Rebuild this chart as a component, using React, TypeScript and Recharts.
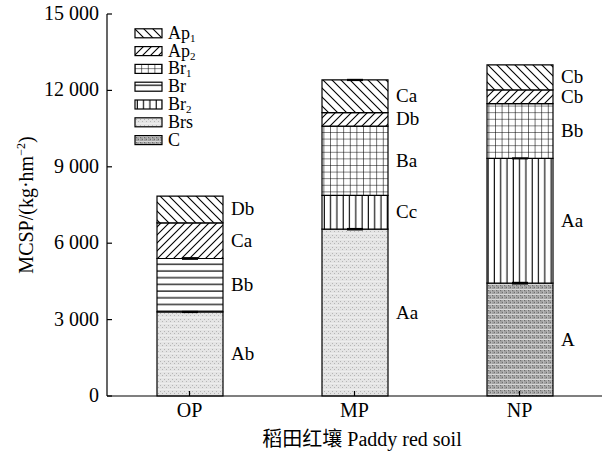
import React from 'react';
import { BarChart, Bar, XAxis, YAxis, LabelList, ErrorBar, Legend } from 'recharts';

const categories = ['OP', 'MP', 'NP'];
const seriesKeys = ['C', 'Brs', 'Br2', 'Br', 'Br1', 'Ap2', 'Ap1'];

const valC = [0, 0, 4430];
const valBrs = [3300, 6550, 0];
const valBr2 = [0, 1330, 4900];
const valBr = [2100, 0, 0];
const valBr1 = [0, 2720, 2150];
const valAp2 = [1400, 530, 540];
const valAp1 = [1050, 1280, 980];

const sigC = ['', '', 'A'];
const sigBrs = ['Ab', 'Aa', ''];
const sigBr2 = ['', 'Cc', 'Aa'];
const sigBr = ['Bb', '', ''];
const sigBr1 = ['', 'Ba', 'Bb'];
const sigAp2 = ['Ca', 'Db', 'Cb'];
const sigAp1 = ['Db', 'Ca', 'Cb'];

const errC = [0, 0, 25];
const errBrs = [15, 20, 0];
const errBr2 = [0, 0, 10];
const errBr = [25, 0, 0];
const errBr1 = [0, 0, 0];
const errAp2 = [0, 0, 0];
const errAp1 = [0, 15, 0];

const yTicks = [0, 3000, 6000, 9000, 12000, 15000];
const yTickLabels = ['0', '3 000', '6 000', '9 000', '12 000', '15 000'];

const legendKeys = ['Ap1', 'Ap2', 'Br1', 'Br', 'Br2', 'Brs', 'C'];
const legendMain = ['Ap', 'Ap', 'Br', 'Br', 'Br', 'Brs', 'C'];
const legendSub = ['1', '2', '1', '', '2', '', ''];

const vals: Record<string, number[]> = { C: valC, Brs: valBrs, Br2: valBr2, Br: valBr, Br1: valBr1, Ap2: valAp2, Ap1: valAp1 };
const sigs: Record<string, string[]> = { C: sigC, Brs: sigBrs, Br2: sigBr2, Br: sigBr, Br1: sigBr1, Ap2: sigAp2, Ap1: sigAp1 };
const errs: Record<string, number[]> = { C: errC, Brs: errBrs, Br2: errBr2, Br: errBr, Br1: errBr1, Ap2: errAp2, Ap1: errAp1 };

const data = categories.map((name, i) => {
  const row: any = { name };
  seriesKeys.forEach((k) => {
    row[k] = vals[k][i];
    row[k + '_sig'] = sigs[k][i];
    row[k + '_err'] = errs[k][i];
  });
  return row;
});

const FONT = "'Liberation Serif', 'Times New Roman', 'Noto Sans CJK SC', serif";
const AXIS_X = 107;
const AXIS_Y = 396;

const SegLabel = (props: any) => {
  const vb = props.viewBox || {};
  const x = props.x ?? vb.x;
  const y = props.y ?? vb.y;
  const width = props.width ?? vb.width;
  const height = props.height ?? vb.height;
  const value = props.value;
  if (!value || !height || Math.abs(height) < 1) return null;
  return (
    <text x={x + width + 8} y={y + height / 2 + 6} fontSize={19} fontFamily={FONT} fill="#000">
      {value}
    </text>
  );
};

const YTick = (props: any) => {
  const { y, payload } = props;
  const idx = yTicks.indexOf(payload.value);
  return (
    <g>
      <text x={99} y={y + 6} textAnchor="end" fontSize={20} fontFamily={FONT} fill="#000">
        {yTickLabels[idx]}
      </text>
      <line x1={AXIS_X} x2={AXIS_X + 5} y1={y} y2={y} stroke="#000" strokeWidth={1.2} />
    </g>
  );
};

const XTick = (props: any) => {
  const { x, payload } = props;
  return (
    <g>
      <line x1={x} x2={x} y1={AXIS_Y} y2={AXIS_Y - 5} stroke="#000" strokeWidth={1.2} />
      <text x={x} y={417} textAnchor="middle" fontSize={20} fontFamily={FONT} fill="#000">
        {payload.value}
      </text>
    </g>
  );
};

const LegendContent = () => (
  <svg width={120} height={135} style={{ display: 'block' }}>
    {legendKeys.map((k, i) => {
      const cy = 11.3 + 17.8 * i;
      return (
        <g key={k}>
          <rect x={7} y={cy - 4.5} width={27} height={9} fill={`url(#p-${k})`} stroke="#000" strokeWidth={1.2} />
          <text x={40} y={cy + 5.5} fontSize={18} fontFamily={FONT} fill="#000">
            {legendMain[i]}
            {legendSub[i] ? (
              <tspan fontSize={11} dy={3}>{legendSub[i]}</tspan>
            ) : null}
          </text>
        </g>
      );
    })}
  </svg>
);

export default function App() {
  return (
    <div style={{ position: 'absolute', left: 0, top: 0, background: '#fff' }}>
      <BarChart width={605} height={454} data={data} margin={{ top: 14, right: 3, bottom: 28, left: 0 }}>
        <defs>
          <pattern id="p-Ap1" patternUnits="userSpaceOnUse" width={9} height={9}>
            <rect width={9} height={9} fill="#fff" />
            <path d="M0,0 L9,9 M-3,6 L3,12 M6,-3 L12,3" stroke="#000" strokeWidth={1.1} />
          </pattern>
          <pattern id="p-Ap2" patternUnits="userSpaceOnUse" width={8} height={8}>
            <rect width={8} height={8} fill="#fff" />
            <path d="M0,8 L8,0 M-3,3 L3,-3 M5,11 L11,5" stroke="#000" strokeWidth={1.1} />
          </pattern>
          <pattern id="p-Br1" patternUnits="userSpaceOnUse" width={6.6} height={6.6}>
            <rect width={6.6} height={6.6} fill="#fff" />
            <path d="M0,0 L0,6.6 M0,0 L6.6,0" stroke="#000" strokeWidth={1.1} />
          </pattern>
          <pattern id="p-Br" patternUnits="userSpaceOnUse" width={6.7} height={6.7}>
            <rect width={6.7} height={6.7} fill="#fff" />
            <path d="M0,3 L6.7,3" stroke="#000" strokeWidth={1.2} />
          </pattern>
          <pattern id="p-Br2" patternUnits="userSpaceOnUse" width={6.3} height={6.3}>
            <rect width={6.3} height={6.3} fill="#fff" />
            <path d="M3,0 L3,6.3" stroke="#000" strokeWidth={1.1} />
          </pattern>
          <pattern id="p-Brs" patternUnits="userSpaceOnUse" width={4} height={6}>
            <rect width={4} height={6} fill="#e4e4e4" />
            <rect x={0} y={1} width={1} height={1} fill="#b5b5b5" />
            <rect x={2} y={3} width={1} height={1} fill="#b5b5b5" />
            <rect x={0} y={5} width={4} height={0.6} fill="#f4f4f4" />
          </pattern>
          <pattern id="p-C" patternUnits="userSpaceOnUse" width={4} height={5}>
            <rect width={4} height={5} fill="#a0a0a0" />
            <rect x={0} y={0} width={1} height={1} fill="#6e6e6e" />
            <rect x={2} y={2} width={1} height={1} fill="#6e6e6e" />
            <rect x={0} y={4} width={4} height={0.8} fill="#e8e8e8" />
            <rect x={3} y={0} width={0.6} height={5} fill="#c8c8c8" />
          </pattern>
        </defs>
        <XAxis
          dataKey="name"
          axisLine={{ stroke: '#000', strokeWidth: 1.2 }}
          tickLine={false}
          tick={<XTick />}
          interval={0}
        />
        <YAxis
          width={107}
          domain={[0, 15000]}
          ticks={yTicks}
          axisLine={{ stroke: '#000', strokeWidth: 1.2 }}
          tickLine={false}
          tick={<YTick />}
          interval={0}
        />
        <Legend
          layout="vertical"
          align="center"
          verticalAlign="middle"
          wrapperStyle={{ left: 128, top: 22, width: 120, height: 135 }}
          content={<LegendContent />}
        />
        {seriesKeys.map((k) => (
          <Bar
            key={k}
            dataKey={k}
            stackId="a"
            barSize={66}
            fill={`url(#p-${k})`}
            stroke="#000"
            strokeWidth={1.2}
            isAnimationActive={false}
          >
            <ErrorBar dataKey={k + '_err'} width={8} stroke="#000" strokeWidth={1.5} direction="y" />
            <LabelList dataKey={k + '_sig'} content={<SegLabel />} />
          </Bar>
        ))}
        <text
          x={33}
          y={205}
          transform="rotate(-90 33 205)"
          textAnchor="middle"
          fontSize={20}
          fontFamily={FONT}
          fill="#000"
        >
          MCSP/(kg·hm
          <tspan fontSize={12} dy={-8}>−2</tspan>
          <tspan dy={8}>)</tspan>
        </text>
        <text x={362} y={446} textAnchor="middle" fontSize={20} fontFamily={FONT} fill="#000">
          稻田红壤 Paddy red soil
        </text>
      </BarChart>
    </div>
  );
}
